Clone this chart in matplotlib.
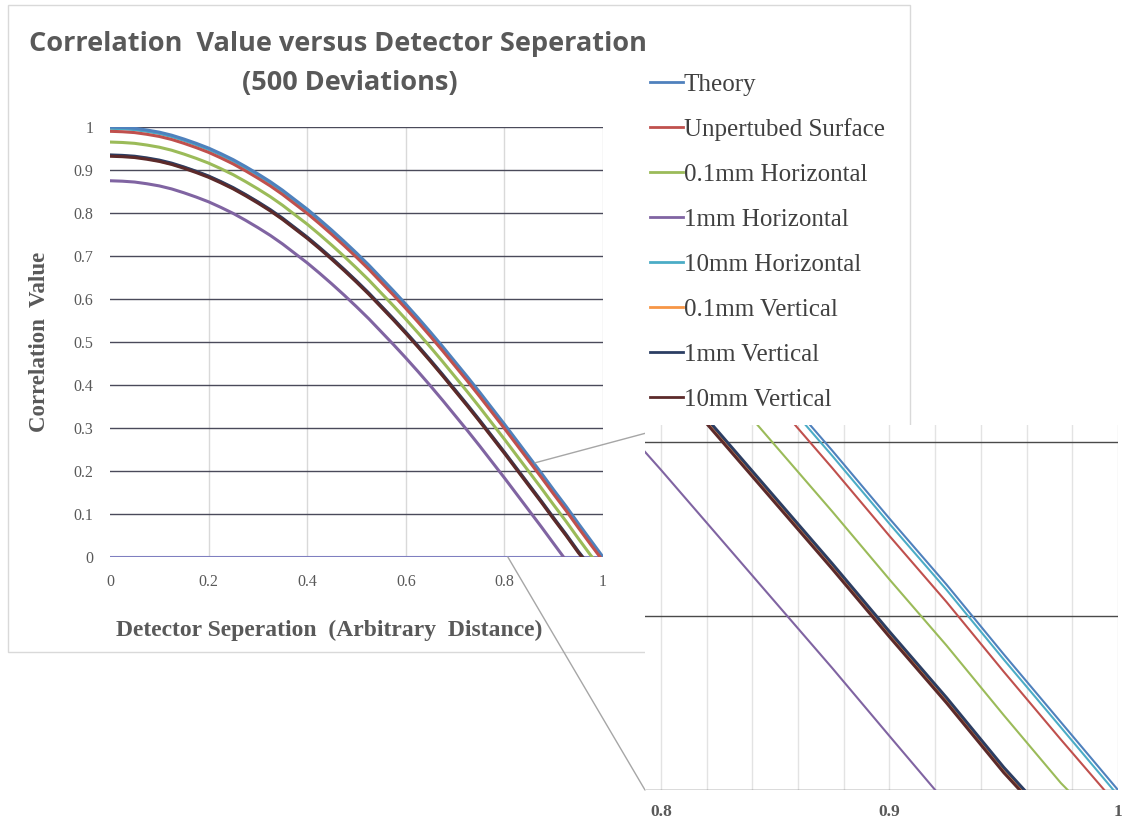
import matplotlib
matplotlib.use("Agg")
import matplotlib.pyplot as plt
from matplotlib.patches import Rectangle, ConnectionPatch

# detector separation samples (step 0.025)
dist = [k * 0.025 for k in range(40)]

labels = ["Theory", "Unpertubed Surface", "0.1mm Horizontal", "1mm Horizontal",
          "10mm Horizontal", "0.1mm Vertical", "1mm Vertical", "10mm Vertical"]
colors = ["#4F81BD", "#C0504D", "#9BBB59", "#8064A2",
          "#4BACC6", "#F79646", "#2C3E63", "#5C2A2A"]

theory = [1.000, 0.999, 0.997, 0.993, 0.988, 0.981, 0.972, 0.962, 0.951, 0.938,
          0.924, 0.908, 0.891, 0.873, 0.853, 0.831, 0.809, 0.785, 0.760, 0.734,
          0.707, 0.679, 0.649, 0.619, 0.588, 0.556, 0.523, 0.489, 0.454, 0.419,
          0.383, 0.346, 0.309, 0.271, 0.233, 0.195, 0.156, 0.118, 0.078, 0.039]
unperturbed = [0.990, 0.989, 0.987, 0.983, 0.978, 0.971, 0.962, 0.952, 0.941, 0.928,
               0.914, 0.898, 0.881, 0.863, 0.843, 0.821, 0.799, 0.775, 0.750, 0.724,
               0.697, 0.669, 0.639, 0.609, 0.578, 0.546, 0.513, 0.479, 0.444, 0.409,
               0.373, 0.336, 0.299, 0.261, 0.223, 0.185, 0.146, 0.108, 0.068, 0.029]
h_01mm = [0.965, 0.964, 0.962, 0.958, 0.953, 0.946, 0.937, 0.927, 0.916, 0.903,
          0.889, 0.873, 0.856, 0.838, 0.818, 0.796, 0.774, 0.750, 0.725, 0.699,
          0.672, 0.644, 0.614, 0.584, 0.553, 0.521, 0.488, 0.454, 0.419, 0.384,
          0.348, 0.311, 0.274, 0.236, 0.198, 0.160, 0.121, 0.083, 0.043, 0.004]
h_1mm = [0.875, 0.874, 0.872, 0.868, 0.863, 0.856, 0.847, 0.837, 0.826, 0.813,
         0.799, 0.783, 0.766, 0.748, 0.728, 0.706, 0.684, 0.660, 0.635, 0.609,
         0.582, 0.554, 0.524, 0.494, 0.463, 0.431, 0.398, 0.364, 0.329, 0.294,
         0.258, 0.221, 0.184, 0.146, 0.108, 0.070, 0.031]
h_10mm = [0.997, 0.996, 0.994, 0.990, 0.985, 0.978, 0.969, 0.959, 0.948, 0.935,
          0.921, 0.905, 0.888, 0.870, 0.850, 0.828, 0.806, 0.782, 0.757, 0.731,
          0.704, 0.676, 0.646, 0.616, 0.585, 0.553, 0.520, 0.486, 0.451, 0.416,
          0.380, 0.343, 0.306, 0.268, 0.230, 0.192, 0.153, 0.115, 0.075, 0.036]
v_01mm = [0.934, 0.933, 0.930, 0.927, 0.921, 0.914, 0.906, 0.896, 0.885, 0.872,
          0.857, 0.842, 0.825, 0.806, 0.786, 0.765, 0.743, 0.719, 0.694, 0.668,
          0.641, 0.612, 0.583, 0.553, 0.521, 0.489, 0.456, 0.422, 0.387, 0.352,
          0.316, 0.280, 0.243, 0.205, 0.167, 0.129, 0.090, 0.051, 0.012]
v_1mm = [0.935, 0.934, 0.932, 0.928, 0.923, 0.916, 0.907, 0.897, 0.886, 0.873,
         0.859, 0.843, 0.826, 0.808, 0.788, 0.766, 0.744, 0.720, 0.695, 0.669,
         0.642, 0.614, 0.584, 0.554, 0.523, 0.491, 0.458, 0.424, 0.389, 0.354,
         0.318, 0.281, 0.244, 0.206, 0.168, 0.130, 0.091, 0.053, 0.013]
v_10mm = [0.932, 0.931, 0.929, 0.925, 0.920, 0.913, 0.904, 0.894, 0.883, 0.870,
          0.856, 0.840, 0.823, 0.805, 0.785, 0.763, 0.741, 0.717, 0.692, 0.666,
          0.639, 0.611, 0.581, 0.551, 0.520, 0.488, 0.455, 0.421, 0.386, 0.351,
          0.315, 0.278, 0.241, 0.203, 0.165, 0.127, 0.088, 0.050, 0.010]
# separation where each curve reaches zero
zero_at = [1.000, 0.994, 0.978, 0.920, 0.998, 0.958, 0.959, 0.957]

series = [theory, unperturbed, h_01mm, h_1mm, h_10mm, v_01mm, v_1mm, v_10mm]
draw_order = [4, 0, 1, 2, 3, 5, 6, 7]

serif = "Liberation Serif"
gray = "#595959"

W, H = 1123, 824
fig = plt.figure(figsize=(W / 100, H / 100), dpi=100)

# chart frame
fig.patches.append(Rectangle((8 / W, 1 - 652 / H), 902 / W, 647 / H,
                             transform=fig.transFigure, facecolor="white",
                             edgecolor="#d9d9d9", linewidth=1, zorder=-5))

fig.text(338 / W, 1 - 51 / H, "Correlation  Value versus Detector Seperation",
         ha="center", va="baseline", fontsize=19.5, fontweight="bold",
         family="Open Sans", color=gray)
fig.text(350 / W, 1 - 90 / H, "(500 Deviations)", ha="center", va="baseline",
         fontsize=19.5, fontweight="bold", family="Open Sans", color=gray)

ax = fig.add_axes([110 / W, 1 - 557 / H, 493 / W, 430 / H])
ax.set_facecolor("none")
ax.set_xlim(0, 1)
ax.set_ylim(0, 1)
ax.set_xticks([0, 0.2, 0.4, 0.6, 0.8, 1])
ax.set_xticklabels(["0", "0.2", "0.4", "0.6", "0.8", "1"])
ax.set_yticks([i / 10 for i in range(11)])
ax.set_yticklabels(["0"] + ["0.%d" % i for i in range(1, 10)] + ["1"])
ax.tick_params(length=0, labelsize=11.5, labelcolor=gray, pad=12)
for t in ax.get_xticklabels() + ax.get_yticklabels():
    t.set_family(serif)
for xv in [0.2, 0.4, 0.6, 0.8, 1.0]:
    ax.axvline(xv, color="#d9d9d9", linewidth=1, zorder=1)
for yv in [i / 10 for i in range(1, 11)]:
    ax.axhline(yv, color="#4a4a5a", linewidth=1, zorder=1)
for s in ax.spines.values():
    s.set_visible(False)
ax.axhline(0, color="#7f7fc0", linewidth=1.5, zorder=1)

for i in draw_order:
    vals = series[i]
    xs = dist[:len(vals)] + [zero_at[i]]
    ax.plot(xs, vals + [0], color=colors[i], linewidth=2.2, label=labels[i],
            zorder=3, solid_joinstyle="round")

ax.set_ylabel("Correlation  Value", family=serif, fontweight="bold",
              fontsize=16.5, color=gray)
ax.yaxis.set_label_coords(-0.122, 0.5)
ax.set_xlabel("Detector Seperation  (Arbitrary  Distance)", family=serif,
              fontweight="bold", fontsize=17, color=gray)
ax.xaxis.set_label_coords(0.445, -0.147)

handles, labs = ax.get_legend_handles_labels()
order = [labs.index(l) for l in labels]
leg = fig.legend([handles[k] for k in order], [labs[k] for k in order],
                 loc="upper left", bbox_to_anchor=(650 / W, 1 - 73 / H),
                 frameon=False, prop={"family": serif, "size": 18},
                 handlelength=1.3, handletextpad=0.05, labelspacing=0.9,
                 borderpad=0, borderaxespad=0)
for t in leg.get_texts():
    t.set_color("#404040")
for h in leg.get_lines():
    h.set_linewidth(2)

# zoomed view near the zero crossings
axz = fig.add_axes([645 / W, 1 - 790 / H, 473 / W, 365 / H])
axz.set_facecolor("white")
axz.set_zorder(5)
axz.set_xlim(0.793, 1.0)
axz.set_ylim(0, 0.2098)
for s in axz.spines.values():
    s.set_visible(False)
for xv in [0.80 + 0.02 * k for k in range(11)]:
    axz.axvline(xv, color="#e3e3e3", linewidth=1, zorder=1)
for yv in [0, 0.1, 0.2]:
    axz.axhline(yv, color="#4a4a4a", linewidth=1, zorder=1)
for i in draw_order:
    vals = series[i]
    xs = dist[:len(vals)] + [zero_at[i]]
    lw = 2.2 if i >= 6 else 1.5
    axz.plot(xs, vals + [0], color=colors[i], linewidth=lw, zorder=3)
axz.set_xticks([0.8, 0.9, 1.0])
axz.set_xticklabels(["0.8", "0.9", "1"])
axz.set_yticks([])
axz.tick_params(length=0, labelsize=12.5, labelcolor=gray, pad=10)
for t in axz.get_xticklabels():
    t.set_family(serif)
    t.set_fontweight("bold")

for a, b in [((0.862, 0.219), (0.793, 0.205)), ((0.807, 0.0), (0.793, 0.0))]:
    con = ConnectionPatch(xyA=a, coordsA=ax.transData, xyB=b, coordsB=axz.transData,
                          color="#a6a6a6", linewidth=1)
    fig.add_artist(con)

fig.savefig("out.png", dpi=100)
